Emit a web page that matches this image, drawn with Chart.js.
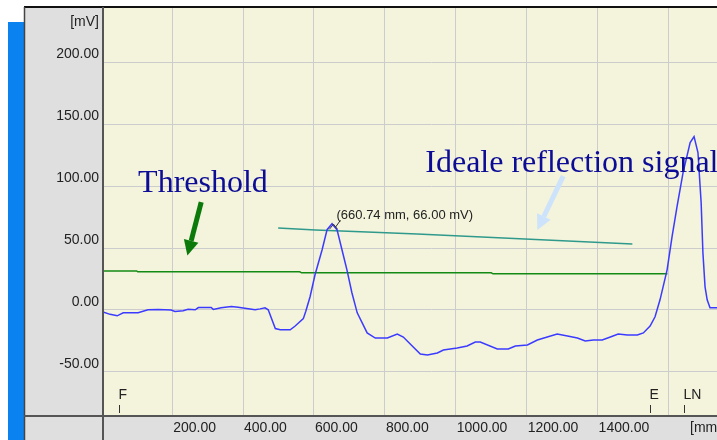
<!DOCTYPE html>
<html lang="en">
<head>
  <meta charset="UTF-8">
  <title>Reflection signal</title>
  <script src="https://cdn.jsdelivr.net/npm/chart.js"></script>
  <style>
    body {
      margin: 0;
      background: #fff;
      overflow: hidden;
    }
    #wrap {
      position: absolute;
      left: 0;
      top: 0;
      width: 760px;
      height: 440px;
    }
  </style>
</head>
<body>
  <div id="wrap"><canvas id="graf" width="760" height="440"></canvas></div>

  <script>
// measured signal [mm, mV]
const signalMm = [5, 25, 45, 62, 104, 132, 161, 197, 208, 231, 245, 265, 274, 310, 316, 338, 367, 386, 434, 448, 462, 471, 491, 505, 533, 547, 570, 577, 589, 603, 623, 637, 651, 665, 679, 693, 707, 722, 750, 773, 807, 835, 852, 880, 900, 920, 948, 965, 1004, 1032, 1055, 1069, 1117, 1148, 1168, 1202, 1230, 1258, 1286, 1315, 1343, 1365, 1388, 1413, 1436, 1458, 1484, 1512, 1529, 1548, 1562, 1576, 1596, 1610, 1624, 1641, 1661, 1672, 1683, 1692, 1697, 1703, 1709, 1717, 1737, 1760];
const signalMv = [-1.5, -3.5, -4.7, -2.2, -2.2, 0.2, 0.4, 0, -1.2, -0.6, 0.6, 0.2, 2, 2, 0.5, 1.8, 2.8, 2.2, 0.2, 0.9, 1.8, 0.2, -15, -16, -16, -12.9, -7, -1, 10.7, 28.4, 48.6, 64.8, 69.6, 64.8, 48.6, 32.4, 13.9, -2.3, -18.5, -22.6, -22.6, -19.4, -21.8, -29.8, -35.5, -36.3, -34.7, -32.3, -30.6, -29, -25.8, -25.8, -31.5, -31.5, -29, -28.2, -24.2, -21.8, -19.4, -21, -22.6, -25, -24.2, -24.2, -21.8, -19.4, -20.2, -20.2, -18.5, -13, -5.5, 8.2, 32.4, 59.1, 83.4, 110.8, 135, 139.9, 127, 86.6, 46.2, 18.7, 8.2, 1.8, 1.8, 1.8];

const thresholdMm = [5, 100, 103, 560, 565, 1100, 1105, 1597];
const thresholdMv = [31.5, 31.5, 30.8, 30.8, 30.0, 30.0, 29.2, 29.2];

const idealMm = [499, 604, 750, 891, 1013, 1498];
const idealMv = [66.1, 64.5, 62.9, 61.3, 59.7, 53.2];

const peakMm = 660.74;
const peakMv = 66.00;

const xTickValues = [200, 400, 600, 800, 1000, 1200, 1400, 1600, 1800];
const xTickLastLabel = 1400;
const yTickValues = [-50, 0, 50, 100, 150, 200];

const markerNames = ['F', 'E', 'LN'];
const markerMm = [50, 1549, 1645];

const pares = (xs, ys) => xs.map((x, i) => ({ x, y: ys[i] }));

function seta(ctx, x1, y1, x2, y2, cor, larg, cab) {
  const ang = Math.atan2(y2 - y1, x2 - x1);
  const bx = x2 - cab * Math.cos(ang), by = y2 - cab * Math.sin(ang);
  ctx.strokeStyle = cor;
  ctx.lineWidth = larg;
  ctx.beginPath();
  ctx.moveTo(x1, y1);
  ctx.lineTo(bx, by);
  ctx.stroke();
  ctx.fillStyle = cor;
  ctx.beginPath();
  ctx.moveTo(x2, y2);
  ctx.lineTo(bx + cab * 0.5 * Math.sin(ang), by - cab * 0.5 * Math.cos(ang));
  ctx.lineTo(bx - cab * 0.5 * Math.sin(ang), by + cab * 0.5 * Math.cos(ang));
  ctx.closePath();
  ctx.fill();
}

const moldura = {
  id: 'moldura',
  beforeDraw(chart) {
    const { ctx, chartArea: a, width, height } = chart;
    ctx.save();
    ctx.fillStyle = '#ffffff';
    ctx.fillRect(0, 0, width, height);
    ctx.fillStyle = '#0a82f0';
    ctx.fillRect(8, 22, 16, height - 22);
    ctx.fillStyle = '#dfdfdf';
    ctx.fillRect(24, 7, width - 24, height - 7);
    ctx.fillStyle = '#f4f3dc';
    ctx.fillRect(a.left, a.top, a.right - a.left, a.bottom - a.top);
    ctx.restore();
  },
  afterDraw(chart) {
    const { ctx, chartArea: a, width, height } = chart;
    const sx = chart.scales.x, sy = chart.scales.y;
    const px = v => sx.getPixelForValue(v), py = v => sy.getPixelForValue(v);
    ctx.save();

    // frame lines
    ctx.strokeStyle = '#111';
    ctx.lineWidth = 2;
    ctx.beginPath(); ctx.moveTo(24, 7); ctx.lineTo(width, 7); ctx.stroke();
    ctx.strokeStyle = '#444';
    ctx.lineWidth = 1.5;
    ctx.beginPath(); ctx.moveTo(24.5, 7); ctx.lineTo(24.5, height); ctx.stroke();
    ctx.strokeStyle = '#555';
    ctx.lineWidth = 2;
    ctx.beginPath(); ctx.moveTo(a.left, 7); ctx.lineTo(a.left, height); ctx.stroke();
    ctx.beginPath(); ctx.moveTo(24, a.bottom); ctx.lineTo(width, a.bottom); ctx.stroke();

    // unit labels
    ctx.fillStyle = '#222';
    ctx.font = '14px "Liberation Sans", Arial, sans-serif';
    ctx.textAlign = 'right';
    ctx.textBaseline = 'middle';
    ctx.fillText('[mV]', a.left - 4, 22);
    ctx.textAlign = 'left';
    ctx.fillText('[mm]', 690, a.bottom + 12);

    // position markers
    ctx.strokeStyle = '#333';
    ctx.lineWidth = 1;
    markerNames.forEach((nome, i) => {
      const x = Math.round(px(markerMm[i])) + 0.5;
      ctx.fillText(nome, x - 1, a.bottom - 21);
      ctx.beginPath(); ctx.moveTo(x, a.bottom - 11); ctx.lineTo(x, a.bottom - 3); ctx.stroke();
    });

    // peak cursor + label
    const pkx = px(peakMm), pky = py(peakMv);
    ctx.strokeStyle = '#333';
    ctx.lineWidth = 1;
    ctx.beginPath();
    ctx.moveTo(pkx - 6, pky + 1);
    ctx.lineTo(pkx - 2, pky - 4);
    ctx.lineTo(pkx + 2, pky + 1);
    ctx.moveTo(pkx, pky - 1);
    ctx.lineTo(pkx + 5, pky - 8);
    ctx.stroke();
    ctx.fillStyle = '#222';
    ctx.font = '13px "Liberation Sans", Arial, sans-serif';
    ctx.fillText(`(${peakMm.toFixed(2)} mm, ${peakMv.toFixed(2)} mV)`, pkx + 1, pky - 13);

    // annotations
    ctx.fillStyle = '#0c0c96';
    ctx.font = '32px "Liberation Serif", "Times New Roman", serif';
    ctx.textBaseline = 'alphabetic';
    ctx.fillText('Threshold', px(104), py(95));
    ctx.fillText('Ideale reflection signal', px(914), py(111));
    seta(ctx, px(282), py(87), px(243), py(44), '#0b7a0b', 5, 15);
    seta(ctx, px(1303), py(108), px(1230), py(64.5), '#cce3fb', 5, 15);

    ctx.restore();
  }
};

new Chart(document.getElementById('graf').getContext('2d'), {
  type: 'line',
  data: {
    datasets: [
      {
        label: 'Signal',
        data: pares(signalMm, signalMv),
        borderColor: '#3b3bff',
        borderWidth: 1.5,
        pointRadius: 0,
        tension: 0
      },
      {
        label: 'Ideal',
        data: pares(idealMm, idealMv),
        borderColor: '#2f9a8c',
        borderWidth: 1.5,
        pointRadius: 0,
        tension: 0
      },
      {
        label: 'Threshold',
        data: pares(thresholdMm, thresholdMv),
        borderColor: '#138a13',
        borderWidth: 1.5,
        pointRadius: 0,
        tension: 0
      }
    ]
  },
  options: {
    responsive: false,
    animation: false,
    devicePixelRatio: 1,
    layout: { padding: { left: 24, top: 7, right: 0, bottom: 0 } },
    plugins: {
      legend: { display: false },
      tooltip: { enabled: false }
    },
    scales: {
      x: {
        type: 'linear',
        min: 5,
        max: 1858,
        afterBuildTicks: s => { s.ticks = xTickValues.map(v => ({ value: v })); },
        afterFit: s => { s.height = 24; s.paddingLeft = 0; s.paddingRight = 0; },
        border: { display: false },
        grid: { color: '#cccccc', lineWidth: 1, drawTicks: false },
        ticks: {
          autoSkip: false,
          maxRotation: 0,
          align: 'start',
          labelOffset: 1,
          padding: 4,
          color: '#222',
          font: { family: '"Liberation Sans", Arial, sans-serif', size: 14 },
          callback: v => (v <= xTickLastLabel ? v.toFixed(2) : '')
        }
      },
      y: {
        min: -85.5,
        max: 244.4,
        afterBuildTicks: s => { s.ticks = yTickValues.map(v => ({ value: v })); },
        afterFit: s => { s.width = 79; s.paddingTop = 0; s.paddingBottom = 0; },
        border: { display: false },
        grid: { color: '#cccccc', lineWidth: 1, drawTicks: false },
        ticks: {
          labelOffset: -8,
          padding: 4,
          color: '#222',
          font: { family: '"Liberation Sans", Arial, sans-serif', size: 14 },
          callback: v => v.toFixed(2)
        }
      }
    }
  },
  plugins: [moldura]
});
</script>
</body>
</html>
